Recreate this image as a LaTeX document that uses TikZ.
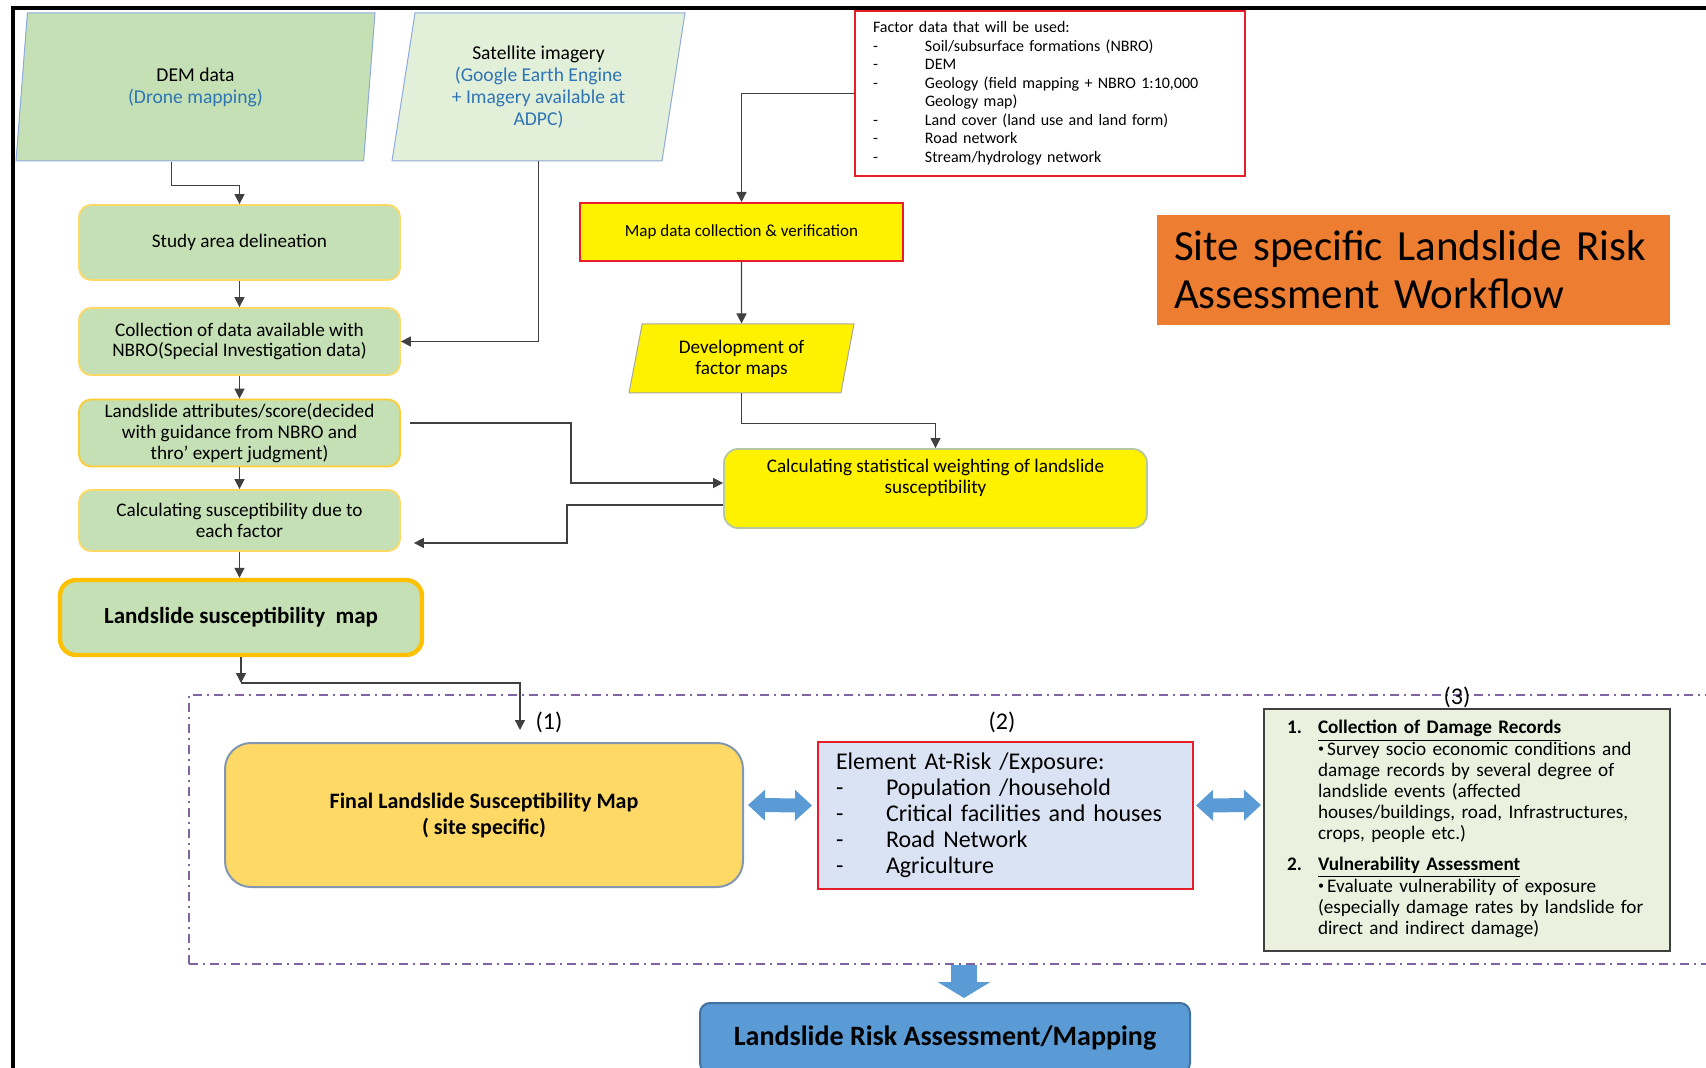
\documentclass[tikz,border=0pt]{standalone}
\usepackage{fontspec}
\setmainfont{Carlito}
\usetikzlibrary{arrows.meta, positioning, calc, shapes.geometric}

\definecolor{demgreen}{RGB}{197,224,180}
\definecolor{satgreen}{RGB}{226,239,217}
\definecolor{paleyellow}{RGB}{255,217,102}
\definecolor{amber}{RGB}{255,192,0}
\definecolor{linkblue}{RGB}{46,117,182}
\definecolor{edgeblue}{RGB}{143,170,220}
\definecolor{titleorange}{RGB}{237,125,49}
\definecolor{factred}{RGB}{230,30,40}
\definecolor{exposblue}{RGB}{218,227,243}
\definecolor{vulngreen}{RGB}{235,241,222}
\definecolor{riskblue}{RGB}{91,155,213}
\definecolor{riskedge}{RGB}{65,113,156}
\definecolor{zonepurple}{RGB}{128,100,162}
\definecolor{mapedge}{RGB}{132,151,176}
\definecolor{weightedge}{RGB}{181,200,160}

\newcommand{\dashitem}[2]{\makebox[#1][l]{-}#2}
\newcommand{\smbul}{{\fontsize{6}{6}\selectfont\raisebox{1.5pt}{\textbullet}}\,}

\begin{document}
\begin{tikzpicture}[x=0.5pt, y=-0.5pt,
	conn/.style={-{Triangle[length=5pt,width=5pt]}, line width=0.7pt, draw=black!75},
	fatarrow/.style={{Triangle[length=8.5pt,width=15pt]}-{Triangle[length=8.5pt,width=15pt]}, line width=7pt, draw=riskblue},
	fatdown/.style={-{Triangle[length=8pt,width=26pt]}, line width=13pt, draw=riskblue},
	datain/.style={
		trapezium,
		trapezium stretches body,
		draw=edgeblue,
		line width=0.5pt,
		align=center,
		inner sep=2pt,
		font=\fontsize{9.8}{10.9}\selectfont
	},
	proc/.style={
		draw=paleyellow,
		fill=demgreen,
		line width=0.9pt,
		rounded corners=6pt,
		minimum width=160.5pt,
		align=center,
		inner sep=2pt,
		font=\fontsize{9.6}{10.4}\selectfont
	},
	factbox/.style={
		draw=factred,
		fill=white,
		line width=1pt,
		minimum width=195pt,
		minimum height=82.5pt,
		text width=177pt,
		inner xsep=9pt,
		align=left,
		font=\fontsize{8}{9.25}\selectfont
	},
	lbl/.style={font=\fontsize{12}{12}\selectfont, inner sep=1pt},
	zone/.style={draw=zonepurple, line width=1pt, dash pattern=on 4.5pt off 2.5pt on 1pt off 2.5pt}
	]
	\useasboundingbox (0,0) rectangle (1706,1068);

	% Input data
	\node[datain, fill=demgreen, trapezium left angle=76.3, trapezium right angle=103.7,
		minimum width=179.5pt, minimum height=74pt] (dem) at (195.5,87)
		{DEM data\\ \textcolor{linkblue}{(Drone mapping)}};
	\node[datain, fill=satgreen, trapezium left angle=75.6, trapezium right angle=104.4,
		minimum width=146.5pt, minimum height=74pt] (sat) at (538.5,87)
		{Satellite imagery\\ \textcolor{linkblue}{(Google Earth Engine}\\
		\textcolor{linkblue}{+ Imagery available at}\\ \textcolor{linkblue}{ADPC)}};

	\node[factbox] (factor) at (1050,93.5)
	{Factor data that will be used:\\
		\dashitem{26pt}{Soil/subsurface formations (NBRO)}\\
		\dashitem{26pt}{DEM}\\
		\dashitem{26pt}{Geology (field mapping + NBRO 1:10,000}\\
		\hspace*{26pt}Geology map)\\
		\dashitem{26pt}{Land cover (land use and land form)}\\
		\dashitem{26pt}{Road network}\\
		\dashitem{26pt}{Stream/hydrology network}};

	\node[fill=titleorange, minimum width=256.5pt, minimum height=55pt, text width=239.5pt,
		inner xsep=8.5pt, align=left, font=\fontsize{21.5}{24}\selectfont] (title) at (1413.5,270)
	{Site specific Landslide Risk\\ Assessment Workflow};

	% Left column
	\node[proc, minimum height=37.5pt] (study) at (239.5,242.5) {Study area delineation};
	\node[proc, minimum height=33.5pt] (collect) at (239.5,341.5)
	{Collection of data available with\\ NBRO(Special Investigation data)};
	\node[proc, minimum height=32pt, draw=amber!80] (attrib) at (239.5,433)
	{Landslide attributes/score(decided\\ with guidance from NBRO and\\ thro' expert judgment)};
	\node[proc, minimum height=30.5pt] (suscalc) at (239.5,520.5)
	{Calculating susceptibility due to\\ each factor};
	\node[proc, draw=amber, line width=2.2pt, rounded corners=8pt, minimum width=181pt,
		minimum height=37.5pt, font=\fontsize{11.5}{13}\selectfont\bfseries] (smap) at (241,617.5)
	{Landslide susceptibility~ map};

	% Middle column
	\node[draw=factred, fill=yellow, line width=1pt, minimum width=161.5pt, minimum height=29pt,
		font=\fontsize{8.5}{10}\selectfont] (mapcol) at (741.5,232)
	{Map data collection \& verification};
	\node[datain, fill=yellow, draw=gray!70, trapezium left angle=73.8, trapezium right angle=106.2,
		minimum width=112.5pt, minimum height=34.5pt, font=\fontsize{9.6}{10.4}\selectfont] (dev) at (741.5,358.5)
	{Development of\\ factor maps};
	\node[proc, fill=yellow, draw=weightedge, rounded corners=7pt, minimum width=211.5pt,
		minimum height=39.5pt, text depth=12pt] (calcw) at (935.5,488.5)
	{Calculating statistical weighting of landslide\\ susceptibility};

	% Risk part
	\node[zone, minimum width=765.5pt, minimum height=134.5pt] (zone) at (954.5,829.5) {};
	\node[fill=paleyellow, draw=mapedge, line width=1pt, rounded corners=13pt, minimum width=259pt,
		minimum height=72pt, align=center, font=\fontsize{11}{13}\selectfont\bfseries] (final) at (484,815)
	{Final Landslide Susceptibility Map\\ ( site specific)};
	\node[fill=exposblue, draw=factred, line width=1pt, minimum width=187.5pt, minimum height=73.5pt,
		text width=169.5pt, inner xsep=9pt, align=left, font=\fontsize{12}{13}\selectfont] (elem) at (1005.5,815.5)
	{Element At-Risk /Exposure:\\
		\dashitem{25pt}{Population /household}\\
		\dashitem{25pt}{Critical facilities and houses}\\
		\dashitem{25pt}{Road Network}\\
		\dashitem{25pt}{Agriculture}};
	\node[fill=vulngreen, draw=black!75, line width=1pt, minimum width=203pt, minimum height=121pt,
		text width=180pt, inner xsep=11.5pt, align=left, font=\fontsize{9.6}{10.5}\selectfont] (risk3) at (1467,830)
	{\begin{tabular}{@{}p{15.5pt}@{}l@{}}
		\textbf{1.} & \textbf{\underline{Collection of Damage Records}}\\
		& \smbul Survey socio economic conditions and\\
		& damage records by several degree of\\
		& landslide events (affected\\
		& houses/buildings, road, Infrastructures,\\
		& crops, people etc.)\\[5pt]
		\textbf{2.} & \textbf{\underline{Vulnerability Assessment}}\\
		& \smbul Evaluate vulnerability of exposure\\
		& (especially damage rates by landslide for\\
		& direct and indirect damage)
	\end{tabular}};
	\node[fill=riskblue, draw=riskedge, line width=1pt, rounded corners=5pt, minimum width=245pt,
		minimum height=35pt, font=\fontsize{14}{16}\selectfont\bfseries] (riskmap) at (945,1038)
	{Landslide Risk Assessment/Mapping};

	\node[lbl] (lbl1) at (549,722) {(1)};
	\node[lbl] (lbl2) at (1002,722) {(2)};
	\node[lbl] (lbl3) at (1457,697) {(3)};

	% Frame
	\draw[line width=2pt] (13,1080) -- (13,8) -- (1720,8);

	% Connectors
	\draw[conn] ([xshift=-12pt]dem.south) -- ++(0,24) -| (study.north);
	\draw[conn] (sat.south) |- (collect.east);
	\draw[conn] (factor.west) -| (mapcol.north);
	\draw[conn] (mapcol) -- (dev);
	\draw[conn] (dev.south) -- ++(0,30) -| (calcw.north);
	\draw[conn] (study) -- (collect);
	\draw[conn] (collect) -- (attrib);
	\draw[conn] (attrib) -- (suscalc);
	\draw[conn] (suscalc.south) -- (suscalc.south |- smap.north);
	\draw[conn] ([xshift=4.5pt,yshift=5pt]attrib.east) -- ++(161,0) |- ([yshift=2.75pt]calcw.west);
	\draw[conn] ([yshift=-8.25pt]calcw.west) -- ++(-156,0) |- ([xshift=6.5pt,yshift=-11.25pt]suscalc.east);

	\coordinate (c1) at (241,683);
	\draw[conn] (smap.south) -- (c1);
	\draw[conn] (c1) -| ([xshift=18pt,yshift=6pt]final.north);

	% Block arrows
	\draw[fatarrow] ([xshift=2pt,yshift=5pt]final.east) -- ([xshift=-2.5pt,yshift=5pt]elem.west);
	\draw[fatarrow] ([xshift=1pt,yshift=5pt]elem.east) -- ([xshift=-1pt,yshift=12.5pt]risk3.west);
	\draw[fatdown] ([xshift=9.5pt]riskmap.north |- zone.south) -- ([xshift=9.5pt,yshift=2pt]riskmap.north);
\end{tikzpicture}
\end{document}
